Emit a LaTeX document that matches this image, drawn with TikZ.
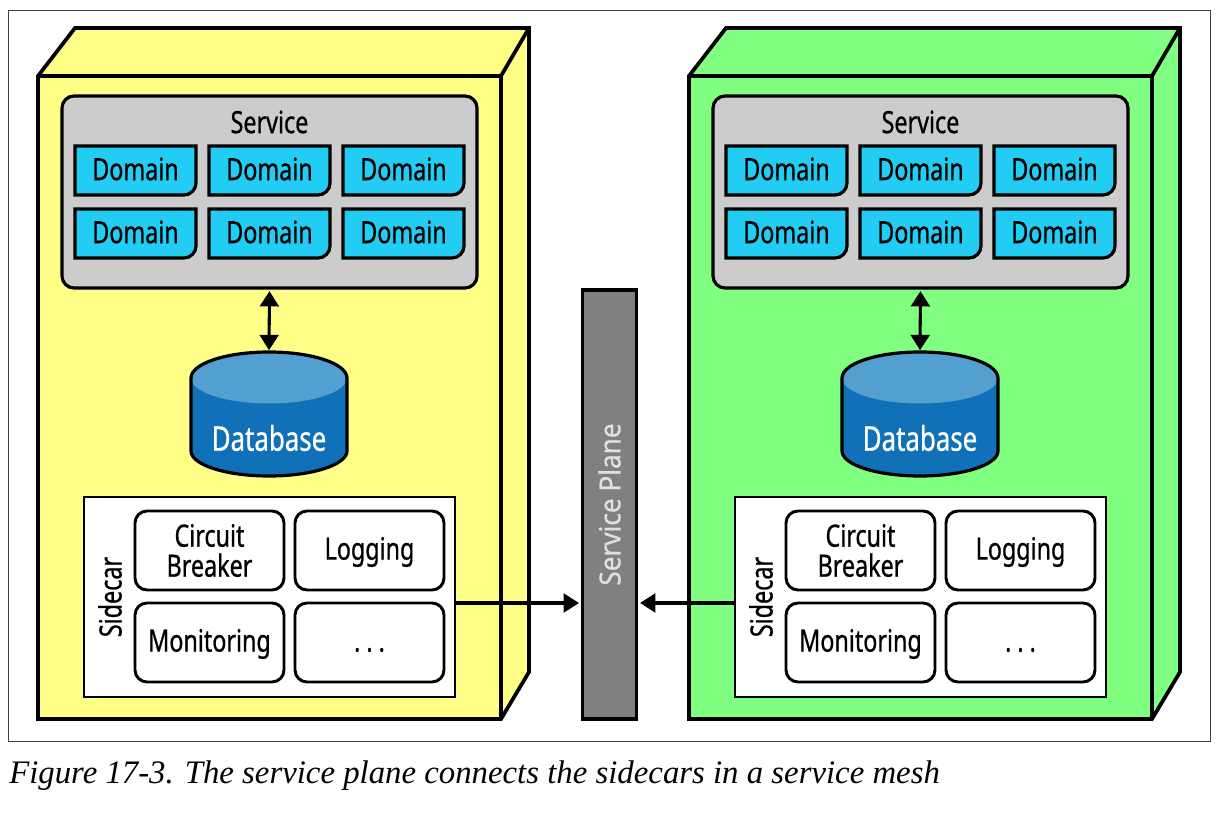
\documentclass[tikz,border=0pt]{standalone}
\usepackage{fontspec}
\usetikzlibrary{arrows.meta,calc}
\setmainfont{Liberation Serif}
\newfontfamily\condfont[FakeStretch=0.76,FakeBold=0.7]{Noto Sans}
\newfontfamily\planefont[FakeStretch=0.9,FakeBold=0.7]{Noto Sans}
\newfontfamily\capfont{Liberation Serif}
\definecolor{yellowbox}{HTML}{FFFF88}
\definecolor{greenbox}{HTML}{80FF80}
\definecolor{svcgray}{HTML}{CCCCCC}
\definecolor{domblue}{HTML}{22CCF2}
\definecolor{dbdark}{HTML}{1071B8}
\definecolor{dblight}{HTML}{539FCF}
\definecolor{planegray}{HTML}{808080}
\newcommand{\pxu}{0.75pt}
\tikzset{
  x=0.75pt,y=-0.75pt,
  every node/.style={font=\condfont\fontsize{23}{22.5}\selectfont,text=black,align=center,inner sep=0pt},
  heavy/.style={draw=black,line width=2.8pt,line join=miter},
  medium/.style={draw=black,line width=2.4pt},
  servicebox/.style={medium,fill=svcgray,rounded corners=9pt,minimum width=415*\pxu,minimum height=192*\pxu},
  domainlabel/.style={minimum width=121*\pxu,minimum height=49*\pxu},
  dblabel/.style={minimum width=156*\pxu,minimum height=124*\pxu},
  sidecarbox/.style={draw=black,line width=2.1pt,fill=white,minimum width=371*\pxu,minimum height=200*\pxu},
  funcbox/.style={draw=black,line width=2.2pt,fill=white,rounded corners=9pt,minimum width=149*\pxu,minimum height=79*\pxu},
  planebox/.style={medium,fill=planegray,minimum width=54*\pxu,minimum height=429*\pxu},
  link/.style={draw=black,line width=2.3pt,-{Triangle[length=11.5pt,width=14pt]}},
  linkboth/.style={draw=black,line width=2.3pt,{Triangle[length=11.5pt,width=14pt]}-{Triangle[length=11.5pt,width=14pt]}},
}
% #1 prefix, #2 x offset, #3 colour
\newcommand{\nodecolumn}[3]{%
  \begin{scope}[xshift=#2*\pxu]
    \fill[#3] (38,76) -- (75,28) -- (529,28) -- (529,672) -- (501,719) -- (38,719) -- cycle;
    \draw[heavy] (38,76) -- (75,28) -- (529,28) -- (529,672) -- (501,719) -- (38,719) -- cycle;
    \draw[heavy] (38,76) -- (501,76) -- (529,28);
    \draw[heavy] (501,76) -- (501,719);
    \node[servicebox] (#1service) at (269.5,192) {};
    \node at (269.5,122) {Service};
    \foreach \cx/\col in {135.5/a,269.5/b,403.5/c}{
      \foreach \cy/\row in {170.5/1,233.5/2}{
        \draw[medium,fill=domblue] (\cx-60.5,\cy-24.5) -- (\cx+60.5,\cy-24.5)
          [rounded corners=9pt] -- (\cx+60.5,\cy+24.5) [sharp corners] -- (\cx-60.5,\cy+24.5) -- cycle;
        \node[domainlabel] (#1dom\col\row) at (\cx,\cy-1.5) {Domain};
      }
    }
    % database
    \fill[dbdark] (191,378) -- (191,451) arc[start angle=180,end angle=0,x radius=78,y radius=25] -- (347,378) -- cycle;
    \fill[dblight] (269,378) ellipse[x radius=78,y radius=25.5];
    \draw[medium] (191,378) arc[start angle=180,end angle=360,x radius=78,y radius=26]
      -- (347,451) arc[start angle=0,end angle=180,x radius=78,y radius=25] -- cycle;
    \node[dblabel] (#1db) at (269,414) {};
    \node[text=white,font=\condfont\fontsize{25.5}{26}\selectfont] at (269,438) {Database};
    \draw[linkboth] ($(#1service.south)+(0,1.5)$) -- ($(#1db.north)+(0,-1.5)$);
    % sidecar
    \node[sidecarbox] (#1sidecar) at (269.5,597) {};
    \node[rotate=90] at (110,597) {Sidecar};
    \node[funcbox] (#1cb) at (209.5,550.5) {Circuit\\Breaker};
    \node[funcbox] (#1log) at (369.5,550.5) {};
    \node at (369.5,552) {Logging};
    \node[funcbox] (#1mon) at (209.5,642.5) {};
    \node at (209.5,644) {Monitoring};
    \node[funcbox] (#1etc) at (369.5,642.5) {};
    \node at (369.5,650) {.\hspace{4.5pt}.\hspace{4.5pt}.};
  \end{scope}%
}
\begin{document}
\begin{tikzpicture}
  \useasboundingbox (0,0) rectangle (1232,816);
  \fill[white] (0,0) rectangle (1232,816);
  \draw[draw=black!75,line width=0.6pt] (8,10) rectangle (1210,741);
  \nodecolumn{L}{0}{yellowbox}
  \nodecolumn{R}{651}{greenbox}
  \node[planebox] (plane) at (609.5,504.5) {};
  \node[rotate=90,text=black!12,font=\planefont\fontsize{21.8}{22}\selectfont] at (609.5,504.5) {Service Plane};
  \coordinate (pl) at (579,603);
  \coordinate (pr) at (640,603);
  \draw[link] (Lsidecar.east |- pl) -- (pl);
  \draw[link] (Rsidecar.west |- pr) -- (pr);
  \node[anchor=base west,font=\capfont\itshape\fontsize{24.6}{28}\selectfont] (cap) at (9,783) {Figure 17-3. The service plane connects the sidecars in a service mesh};
\end{tikzpicture}
\end{document}
